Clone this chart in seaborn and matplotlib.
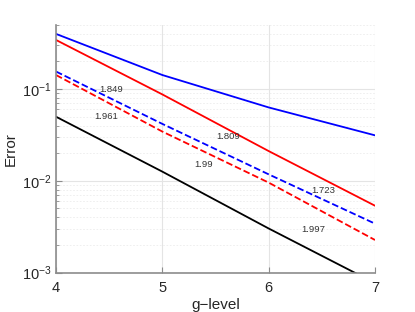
import numpy as np
import pandas as pd
import matplotlib
matplotlib.use("Agg")
import matplotlib.pyplot as plt
from matplotlib.ticker import LogLocator, NullFormatter
import seaborn as sns

# values (error vs g-level)
levels = [4, 5, 6, 7]
err_blue = [0.398, 0.142, 0.063, 0.0313]
err_red = [0.342, 0.0873, 0.0211, 0.00536]
err_blue_dash = [0.155, 0.0417, 0.01177, 0.00342]
err_red_dash = [0.142, 0.0344, 0.00957, 0.00227]
err_black = [0.0499, 0.0126, 0.00303, 0.00077]

# convergence-rate labels
rate_text = ["1.849", "1.961", "1.809", "1.99", "1.723", "1.997"]
rate_x = [4.517, 4.47, 5.618, 5.39, 6.514, 6.417]
rate_y = [0.1, 0.0508, 0.0303, 0.0151, 0.0079, 0.00297]

sns.set_style("whitegrid")
plt.rcParams["font.family"] = ["Liberation Sans", "DejaVu Sans"]

fig = plt.figure(figsize=(4.15, 3.12), dpi=100)
ax = fig.add_axes([56 / 415, 1 - 272.7 / 312, 319 / 415, (272.7 - 24.8) / 312])

series = [
    (err_blue, "#0000ff", "-"),
    (err_red, "#ff0000", "-"),
    (err_blue_dash, "#0000ff", "--"),
    (err_red_dash, "#ff0000", "--"),
    (err_black, "#000000", "-"),
]
for vals, col, ls in series:
    df = pd.DataFrame({"level": levels, "err": vals})
    sns.lineplot(data=df, x="level", y="err", color=col, linestyle=ls, lw=1.3, ax=ax)

for t, x, y in zip(rate_text, rate_x, rate_y):
    ax.text(x, y, t, fontsize=6.8, color="#333333", ha="center", va="center")

ax.set_yscale("log")
ax.set_xlim(4, 7)
ax.set_ylim(1e-3, 0.5)
ax.set_xticks([4, 5, 6, 7])
ax.yaxis.set_major_locator(LogLocator(base=10, numticks=10))
ax.yaxis.set_minor_locator(LogLocator(base=10, subs=np.arange(2, 10), numticks=20))
ax.yaxis.set_minor_formatter(NullFormatter())

ax.grid(True, which="major", color="#e4e4e4", lw=0.8, ls="-")
ax.grid(True, which="minor", axis="y", color="#ececec", lw=0.6, ls=(0, (2, 2)))
ax.grid(False, which="minor", axis="x")

for s in ["top", "right"]:
    ax.spines[s].set_visible(False)
for s in ["left", "bottom"]:
    ax.spines[s].set_color("#8c8c8c")
    ax.spines[s].set_linewidth(1.2)

ax.tick_params(axis="both", which="major", direction="in", length=4, width=0.8,
               color="#8c8c8c", labelsize=10.5, labelcolor="#262626", pad=3,
               bottom=True, left=True)
ax.tick_params(axis="x", which="major", pad=6)
ax.tick_params(axis="y", which="minor", direction="in", length=2, width=0.6,
               color="#8c8c8c", left=True)

ax.set_xlabel("g\u2212level", fontsize=11, color="#262626", labelpad=2)
ax.set_ylabel("Error", fontsize=11, color="#262626", labelpad=3)

fig.savefig("out.png", dpi=100)
